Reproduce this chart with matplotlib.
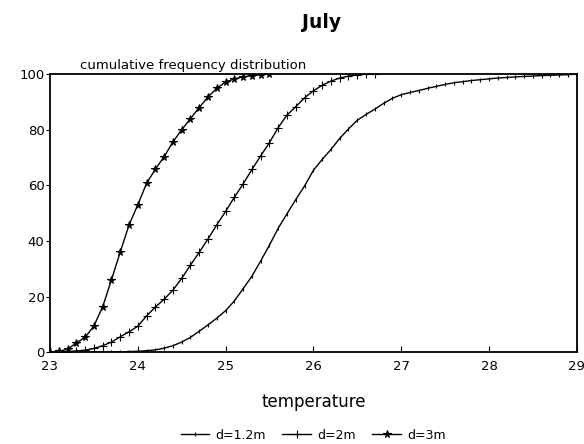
import numpy as np
import matplotlib
matplotlib.use("Agg")
import matplotlib.pyplot as plt

plt.rcParams['font.family'] = ['DejaVu Sans']

# d = 1.2 m
temp_12 = [round(23.0 + 0.1 * i, 1) for i in range(61)]
cum_12 = [0, 0, 0, 0, 0, 0, 0, 0, 0.1, 0.2,
          0.3, 0.5, 0.8, 1.4, 2.3, 3.6, 5.3, 7.5, 9.8, 12.2,
          14.9, 18.4, 22.8, 27.3, 32.8, 38.5, 44.6, 49.8, 54.9, 59.8,
          65.4, 69.3, 72.9, 76.9, 80.3, 83.4, 85.5, 87.4, 89.5, 91.3,
          92.6, 93.4, 94.1, 94.9, 95.6, 96.3, 96.9, 97.3, 97.7, 98.0,
          98.3, 98.6, 98.8, 99.0, 99.2, 99.3, 99.5, 99.6, 99.7, 99.8,
          100]

# d = 2 m
temp_2 = [round(23.0 + 0.1 * i, 1) for i in range(38)]
cum_2 = [0, 0, 0.2, 0.4, 0.7, 1.3, 2.3, 3.6, 5.5, 7.3,
         9.3, 13.0, 16.2, 19.0, 22.3, 26.5, 31.3, 35.9, 40.7, 45.8,
         50.6, 55.7, 60.5, 65.7, 70.6, 75.4, 80.8, 85.3, 88.3, 91.5,
         94.0, 96.0, 97.5, 98.6, 99.3, 99.7, 100, 100]

# d = 3 m
temp_3 = [round(23.0 + 0.1 * i, 1) for i in range(26)]
cum_3 = [0, 0.3, 1.0, 3.3, 5.3, 9.4, 16.3, 26.0, 36.0, 45.7,
         53.0, 60.7, 65.8, 70.3, 75.6, 80.0, 84.0, 88.0, 91.8, 94.9,
         97.2, 98.3, 99.0, 99.5, 99.8, 100]

labels = ['d=1.2m', 'd=2m', 'd=3m']

fig = plt.figure(figsize=(5.84, 4.44), dpi=100)
ax = fig.add_axes([0.0856, 0.207, 0.902, 0.626])

ax.plot(temp_12, cum_12, color='black', lw=1.0, marker='|', ms=3, mew=0.8, label=labels[0])
ax.plot(temp_2, cum_2, color='black', lw=1.0, marker='+', ms=6, mew=0.8, label=labels[1])
ax.plot(temp_3, cum_3, color='black', lw=1.0, marker='*', ms=5.5, mew=0.8, label=labels[2])

ax.set_xlim(23, 29)
ax.set_ylim(0, 100)
ax.set_xticks([23, 24, 25, 26, 27, 28, 29])
ax.set_yticks([0, 20, 40, 60, 80, 100])
ax.tick_params(axis='x', direction='in', length=4, labelsize=9.5, pad=6)
ax.tick_params(axis='y', direction='out', length=3, labelsize=9.5, pad=1)
for s in ax.spines.values():
    s.set_linewidth(1.3)

ax.set_xlabel('temperature', fontsize=12, labelpad=14)
ax.text(0.057, 1.008, 'cumulative frequency distribution', transform=ax.transAxes,
        fontsize=9.5, ha='left', va='bottom')
fig.text(0.551, 0.95, 'July', fontsize=13.5, fontweight='bold', ha='center', va='center')

ax.legend(loc='upper center', bbox_to_anchor=(0.5, -0.235), ncol=3, frameon=False,
          fontsize=9, handlelength=2.3, columnspacing=1.3, handletextpad=0.5)

fig.savefig('out.png', dpi=100)
